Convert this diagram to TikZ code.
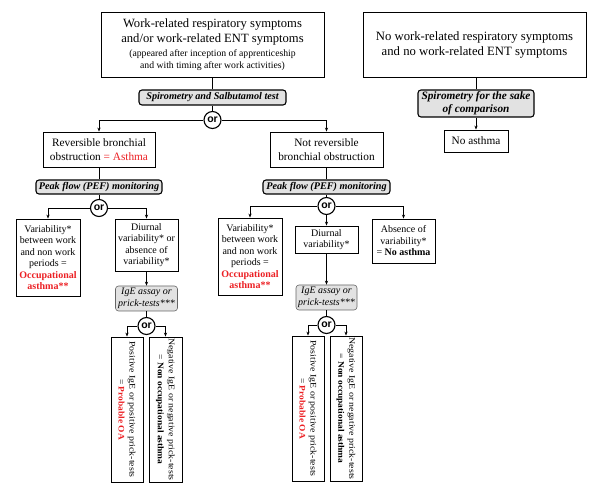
\documentclass[tikz,border=0pt]{standalone}
\usepackage{graphicx}
\usepackage{fontspec}
\setmainfont{Liberation Serif}
\setsansfont{Liberation Sans}
\usetikzlibrary{arrows.meta}
\definecolor{oared}{RGB}{236,32,36}
\definecolor{testgray}{RGB}{226,226,226}
\newcommand{\wideline}[1]{\scalebox{1.16}[1]{#1}}
\newcommand{\boldline}[1]{\scalebox{1.11}[1]{#1}}
\tikzset{
  sz/.style 2 args={minimum width=#1pt, minimum height=#2pt},
  box/.style={draw, line width=0.8pt, fill=white, align=center, inner sep=0pt,
    font=\fontsize{10}{11.5}\selectfont},
  testbox/.style={draw, line width=1.1pt, rounded corners=3pt, fill=testgray,
    align=center, inner sep=0pt, font=\fontsize{10.2}{11.5}\selectfont\bfseries\itshape},
  igebox/.style={testbox, line width=0.6pt, draw=gray!80!black,
    font=\fontsize{10}{12}\selectfont\itshape},
  orc/.style={draw, circle, line width=1.1pt, fill=white, inner sep=0pt,
    minimum size=17pt, font=\fontsize{10.5}{10.5}\selectfont\sffamily\bfseries},
  link/.style={line width=0.8pt},
  arr/.style={link, -{Stealth[length=4pt,width=3.2pt]}},
  vbox/.style={box, rotate=-90, font=\fontsize{8.5}{11}\selectfont}
}
\begin{document}
\begin{tikzpicture}[x=1pt,y=-1pt]
\useasboundingbox (0,0) rectangle (600,494);

\node[box, sz={223}{65}, font=\fontsize{12.6}{15}\selectfont] (sym) at (212.5,44.5)
  {Work-related respiratory symptoms\\
   and/or work-related ENT symptoms\\[-1pt]
   {\fontsize{9.7}{12}\selectfont (appeared after inception of apprenticeship}\\[-3pt]
   {\fontsize{9.7}{12}\selectfont and with timing after work activities)}};
\node[box, sz={223}{65}, font=\fontsize{12.7}{15}\selectfont] (nosym) at (474.5,44.5)
  {No work-related respiratory symptoms\\
   and no work-related ENT symptoms};

\node[testbox, sz={147}{15}] (spiro) at (212.5,97.5) {Spirometry and Salbutamol test};
\node[orc] (or1) at (212.5,120) {or};
\node[box, sz={112}{35}, font=\fontsize{11.3}{14}\selectfont] (rev) at (99,149.5)
  {Reversible bronchial\\ obstruction {\color{oared}= Asthma}};
\node[box, sz={113}{35}, font=\fontsize{11.3}{14}\selectfont] (nrev) at (326.5,149.5)
  {Not reversible\\ bronchial obstruction};

\node[testbox, sz={126}{14}] (peakL) at (99,187) {Peak flow (PEF) monitoring};
\node[testbox, sz={127}{14}] (peakR) at (326.5,187) {Peak flow (PEF) monitoring};
\node[orc] (orL) at (99,208) {or};
\node[orc] (orR) at (326.5,206) {or};

\node[box, sz={64}{77}] (varL) at (48,257.5)
  {Variability*\\ between work\\ and non work\\ periods =\\
   \textbf{\color{oared}Occupational}\\ \textbf{\color{oared}asthma**}};
\node[box, sz={63}{52}] (diurL) at (146.5,245)
  {Diurnal\\ variability* or\\ absence of\\ variability*};
\node[box, sz={64}{77}] (varR) at (250,256.5)
  {Variability*\\ between work\\ and non work\\ periods =\\
   \textbf{\color{oared}Occupational}\\ \textbf{\color{oared}asthma**}};
\node[box, sz={63}{27}] (diurR) at (326.5,239.5) {Diurnal\\ variability*};
\node[box, sz={63}{44}] (absR) at (403.5,241)
  {Absence of\\ variability*\\ = \textbf{No asthma}};

\node[igebox, sz={62}{25}] (igeL) at (146.5,298.5) {IgE assay or\\ prick-tests***};
\node[igebox, sz={61}{25}] (igeR) at (326.5,297.5) {IgE assay or\\ prick-tests***};
\node[orc] (orL2) at (146.5,326) {or};
\node[orc] (orR2) at (326.5,325) {or};

\node[vbox, sz={145}{32}] (posL) at (127,409.5)
  {\wideline{Positive IgE or positive prick-tests}\\
   \boldline{= \textbf{\color{oared}Probable OA}}};
\node[vbox, sz={145}{33}] (negL) at (165.5,409.5)
  {\wideline{Negative IgE or negative prick-tests}\\
   \boldline{= \textbf{Non occupational asthma}}};
\node[vbox, sz={145}{32}] (posR) at (308,408.5)
  {\wideline{Positive IgE or positive prick-tests}\\
   \boldline{= \textbf{\color{oared}Probable OA}}};
\node[vbox, sz={145}{32}] (negR) at (346,408.5)
  {\wideline{Negative IgE or negative prick-tests}\\
   \boldline{= \textbf{Non occupational asthma}}};

\node[testbox, sz={116}{27}, font=\fontsize{11.3}{13}\selectfont\bfseries\itshape] (spiroC) at (476,103.5)
  {Spirometry for the sake\\ of comparison};
\node[box, sz={64}{22}, font=\fontsize{11.3}{13}\selectfont] (noast) at (476,141) {No asthma};

\draw[link] (sym) -- (spiro);
\draw[link] (spiro) -- (or1);
\draw[arr] (or1.west) -| (rev.north);
\draw[arr] (or1.east) -| (nrev.north);

\draw[link] (rev) -- (peakL);
\draw[link] (peakL) -- (orL);
\draw[arr] (orL.west) -| (varL.north);
\draw[arr] (orL.east) -| (diurL.north);
\draw[arr] (diurL) -- (igeL);
\draw[link] (igeL) -- (orL2);
\draw[arr] (orL2.west) -| (posL.west);
\draw[arr] (orL2.east) -| (negL.west);

\draw[link] (nrev) -- (peakR);
\draw[link] (peakR) -- (orR);
\draw[arr] (orR.west) -| (varR.north);
\draw[arr] (orR.east) -| (absR.north);
\draw[arr] (orR) -- (diurR);
\draw[arr] (diurR) -- (igeR);
\draw[link] (igeR) -- (orR2);
\draw[arr] (orR2.west) -| (posR.west);
\draw[arr] (orR2.east) -| (negR.west);

\draw[link] (nosym.south -| spiroC.north) -- (spiroC);
\draw[arr] (spiroC) -- (noast);
\end{tikzpicture}
\end{document}
